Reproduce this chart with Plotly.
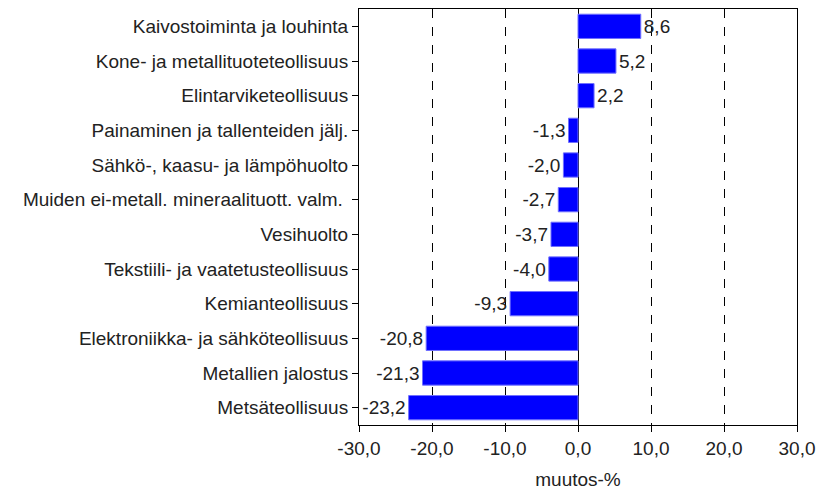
import plotly.graph_objects as go

categories = [
    "Kaivostoiminta ja louhinta",
    "Kone- ja metallituoteteollisuus",
    "Elintarviketeollisuus",
    "Painaminen ja tallenteiden jälj.",
    "Sähkö-, kaasu- ja lämpöhuolto",
    "Muiden ei-metall. mineraalituott. valm. ",
    "Vesihuolto",
    "Tekstiili- ja vaatetusteollisuus",
    "Kemianteollisuus",
    "Elektroniikka- ja sähköteollisuus",
    "Metallien jalostus",
    "Metsäteollisuus",
]
values = [8.6, 5.2, 2.2, -1.3, -2.0, -2.7, -3.7, -4.0, -9.3, -20.8, -21.3, -23.2]
tick_vals = [-30, -20, -10, 0, 10, 20, 30]
tick_text = ["-30,0", "-20,0", "-10,0", "0,0", "10,0", "20,0", "30,0"]
x_title = "muutos-%"

labels = [f"{v:.1f}".replace(".", ",") for v in values]

FONT = "Liberation Sans, Arial"
FS = 19

fig = go.Figure(go.Bar(
    x=values, y=categories, orientation="h",
    marker=dict(color="#0000ff", line=dict(color="#7070ff", width=1)),
    text=labels, textposition="outside", cliponaxis=False,
    textfont=dict(family=FONT, size=FS, color="#222222"),
    hoverinfo="skip",
))

fig.update_layout(
    width=816, height=490,
    margin=dict(l=359, r=19, t=9, b=65),
    paper_bgcolor="#ffffff", plot_bgcolor="#ffffff",
    bargap=0.3, showlegend=False,
    font=dict(family=FONT, size=FS, color="#222222"),
    xaxis=dict(
        range=[-30, 30], tickvals=tick_vals, ticktext=tick_text,
        ticks="outside", ticklen=6, tickcolor="#000000",
        showgrid=True, gridcolor="#000000", griddash="dash", gridwidth=1,
        zeroline=True, zerolinecolor="#000000", zerolinewidth=1,
        showline=True, linecolor="#000000", linewidth=1, mirror=True,
        title=dict(text=x_title, standoff=14, font=dict(family=FONT, size=19)),
        tickfont=dict(size=FS),
        automargin=False,
    ),
    yaxis=dict(
        autorange="reversed",
        ticks="outside", ticklen=6, tickcolor="#000000",
        showline=True, linecolor="#000000", linewidth=1, mirror=True,
        tickfont=dict(size=FS),
        showgrid=False,
        automargin=False,
    ),
)

fig.write_html(
    "out.html",
    config={"displayModeBar": False},
    post_script="document.body.style.margin='0';document.body.style.padding='0';",
)
